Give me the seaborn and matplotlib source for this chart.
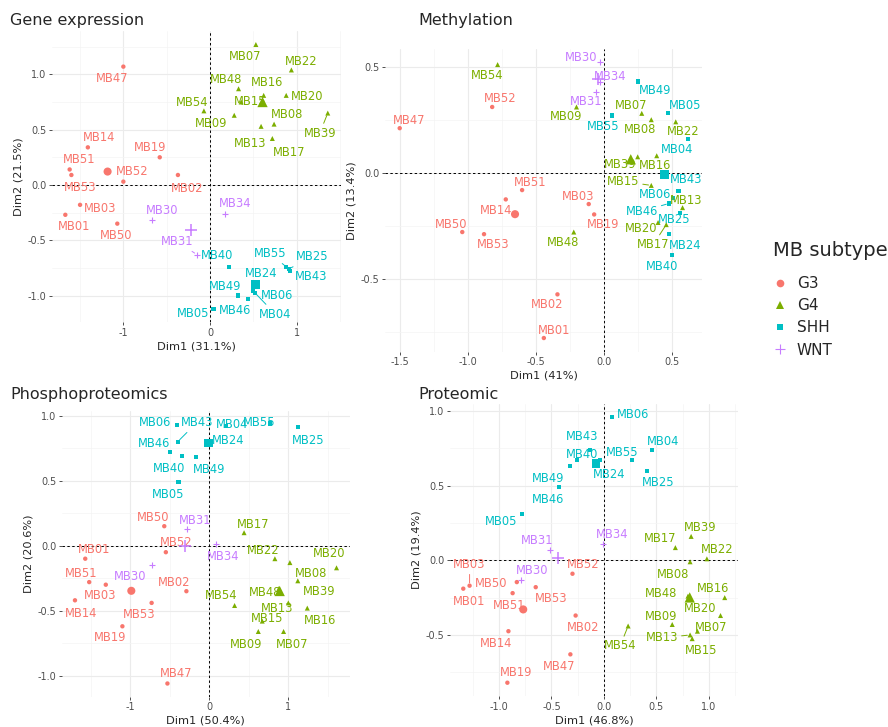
import numpy as np
import pandas as pd
import matplotlib
matplotlib.use("Agg")
import matplotlib.pyplot as plt
import seaborn as sns
from matplotlib.lines import Line2D
from matplotlib.ticker import MultipleLocator, AutoMinorLocator, FormatStrFormatter

# ---------------- data ----------------
SAMPLES = ["MB01", "MB02", "MB03", "MB04", "MB05", "MB06", "MB07", "MB08", "MB09",
           "MB13", "MB14", "MB15", "MB16", "MB17", "MB19", "MB20", "MB22", "MB24",
           "MB25", "MB30", "MB31", "MB34", "MB39", "MB40", "MB43", "MB46", "MB47",
           "MB48", "MB49", "MB50", "MB51", "MB52", "MB53", "MB54", "MB55"]
SUBTYPE = ["G3", "G3", "G3", "SHH", "SHH", "SHH", "G4", "G4", "G4",
           "G4", "G3", "G4", "G4", "G4", "G3", "G4", "G4", "SHH",
           "SHH", "WNT", "WNT", "WNT", "G4", "SHH", "SHH", "SHH", "G3",
           "G4", "SHH", "G3", "G3", "G3", "G3", "G4", "SHH"]

GROUPS = ["G3", "G4", "SHH", "WNT"]

GE_DIM1 = [-1.67, -0.37, -1.50, 0.50, 0.04, 0.52, 0.53, 0.74, 0.28,
           0.59, -1.41, 0.36, 0.62, 0.72, -0.58, 0.88, 0.94, 0.50,
           0.91, -0.67, -0.15, 0.17, 1.36, 0.22, 0.92, 0.44, -1.00,
           0.33, 0.32, -1.07, -1.62, -1.00, -1.60, -0.07, 0.88]
GE_DIM2 = [-0.27, 0.09, -0.18, -0.96, -1.12, -0.98, 1.27, 0.55, 0.63,
           0.53, 0.34, 0.75, 0.81, 0.42, 0.25, 0.81, 1.04, -0.89,
           -0.76, -0.32, -0.63, -0.26, 0.65, -0.74, -0.78, -1.03, 1.07,
           0.87, -1.00, -0.35, 0.14, 0.03, 0.09, 0.67, -0.74]

ME_DIM1 = [-0.44, -0.34, -0.11, 0.62, 0.47, 0.51, 0.28, 0.35, -0.20,
           0.58, -0.72, 0.35, 0.39, 0.46, -0.07, 0.40, 0.53, 0.48,
           0.56, -0.03, -0.06, -0.03, 0.25, 0.50, 0.55, 0.48, -1.50,
           -0.22, 0.25, -1.04, -0.60, -0.82, -0.88, -0.78, 0.06]
ME_DIM2 = [-0.78, -0.574, -0.148, 0.16, 0.28, -0.12, 0.28, 0.25, 0.31,
           -0.165, -0.126, -0.06, 0.08, -0.245, -0.197, -0.235, 0.24, -0.29,
           -0.19, 0.52, 0.38, 0.43, 0.075, -0.39, -0.085, -0.145, 0.21,
           -0.28, 0.43, -0.28, -0.082, 0.31, -0.29, 0.51, 0.27]

PH_DIM1 = [-1.57, -0.29, -1.31, 0.21, -0.39, -0.41, 0.94, 1.02, 0.62,
           1.00, -1.70, 0.67, 1.24, 0.44, -1.10, 1.61, 0.83, 0.01,
           1.12, -0.72, -0.28, 0.09, 1.12, -0.35, -0.40, -0.50, -0.53,
           0.88, -0.17, -0.57, -1.52, -0.55, -0.73, 0.32, 0.77]
PH_DIM2 = [-0.10, -0.35, -0.30, 0.92, 0.49, 0.93, -0.66, -0.13, -0.66,
           -0.44, -0.42, -0.58, -0.48, 0.10, -0.62, -0.17, -0.10, 0.80,
           0.91, -0.15, 0.13, 0.01, -0.27, 0.69, 0.80, 0.72, -1.06,
           -0.33, 0.68, 0.15, -0.28, -0.05, -0.44, -0.46, 0.94]

PR_DIM1 = [-1.34, -0.27, -1.28, 0.46, -0.78, 0.08, 0.89, 0.82, 0.65,
           0.82, -0.91, 0.84, 1.15, 0.68, -0.92, 1.11, 0.98, -0.04,
           0.41, -0.79, -0.51, -0.01, 0.83, -0.26, -0.13, -0.43, -0.32,
           0.80, -0.32, -0.83, -0.87, -0.30, -0.65, 0.23, 0.27]
PR_DIM2 = [-0.19, -0.37, -0.17, 0.74, 0.31, 0.96, -0.475, -0.01, -0.43,
           -0.50, -0.475, -0.525, -0.25, 0.085, -0.82, -0.37, 0.01, 0.67,
           0.60, -0.13, 0.07, 0.11, 0.16, 0.67, 0.74, 0.49, -0.63,
           -0.24, 0.63, -0.146, -0.22, -0.09, -0.18, -0.44, 0.67]

PANEL_TITLES = ["Gene expression", "Methylation", "Phosphoproteomics", "Proteomic"]
DIM1_PCT = ["31.1%", "41%", "50.4%", "46.8%"]
DIM2_PCT = ["21.5%", "13.4%", "20.6%", "19.4%"]
LEGEND_TITLE = "MB subtypes"

# ---------------- style ----------------
COLORS = {"G3": "#F8766D", "G4": "#7CAE00", "SHH": "#00BFC4", "WNT": "#C77CFF"}
MARKERS = {"G3": "o", "G4": "^", "SHH": "s", "WNT": "+"}
PT_SIZE = {"G3": 10, "G4": 13, "SHH": 9, "WNT": 22}
CEN_SIZE = {"G3": 34, "G4": 55, "SHH": 36, "WNT": 70}

# label offsets in pixels (right, down) relative to the point
OFF_GE = {"MB07": (-11, 12), "MB22": (10, -8), "MB48": (-12, -9), "MB16": (3, -13),
          "MB15": (9, -1), "MB20": (21, 1), "MB54": (-12, -8), "MB09": (-23, 8),
          "MB08": (13, -10), "MB39": (-8, 20), "MB13": (-11, 17), "MB17": (17, 14),
          "MB47": (-11, 12), "MB14": (11, -10), "MB19": (-10, -10), "MB51": (9, -10),
          "MB53": (9, 13), "MB52": (9, -10), "MB02": (9, 14), "MB03": (20, 4),
          "MB01": (9, 12), "MB50": (-1, 12), "MB30": (10, -10), "MB34": (10, -10),
          "MB31": (-20, -13), "MB40": (-12, -11), "MB55": (-16, -13), "MB25": (23, -12),
          "MB43": (21, 5), "MB24": (8, -10), "MB49": (-13, -9), "MB06": (22, 2),
          "MB46": (-13, 12), "MB04": (22, 23), "MB05": (-20, 5)}
OFF_ME = {"MB30": (-18, -5), "MB34": (11, -5), "MB31": (-9, 9), "MB54": (-10, 11),
          "MB52": (8, -8), "MB47": (9, -8), "MB09": (-10, 10), "MB49": (17, 9),
          "MB55": (-9, 11), "MB07": (-11, -8), "MB08": (-11, 10), "MB05": (18, -8),
          "MB22": (7, 10), "MB04": (-11, 11), "MB39": (-18, 8), "MB16": (-2, 10),
          "MB15": (-28, -4), "MB43": (8, -11), "MB06": (-18, -4), "MB46": (-27, 8),
          "MB13": (4, -7), "MB25": (-6, 7), "MB20": (-17, 6), "MB17": (-13, 20),
          "MB24": (16, 11), "MB40": (-10, 11), "MB48": (-11, 10), "MB51": (8, -8),
          "MB14": (-10, 11), "MB03": (-11, -8), "MB19": (9, 10), "MB50": (-11, -8),
          "MB53": (9, 10), "MB02": (-10, 10), "MB01": (10, -8)}
OFF_PH = {"MB06": (-22, -2), "MB43": (19, -19), "MB46": (-16, -9), "MB40": (-13, 12),
          "MB49": (13, 12), "MB05": (-10, 13), "MB04": (6, -2), "MB55": (-11, -1),
          "MB25": (10, 13), "MB24": (18, -1), "MB50": (-11, -9), "MB31": (8, -8),
          "MB52": (10, -10), "MB01": (9, -9), "MB34": (7, 12), "MB17": (9, -8),
          "MB22": (-12, -8), "MB20": (-7, -14), "MB30": (-22, 11), "MB51": (-8, -9),
          "MB03": (-6, 11), "MB02": (-12, -9), "MB14": (6, 13), "MB53": (-12, 12),
          "MB19": (-12, 11), "MB47": (9, -10), "MB08": (21, 11), "MB39": (21, 11),
          "MB48": (-14, 4), "MB13": (-11, 6), "MB16": (13, 12), "MB54": (-13, -10),
          "MB15": (5, -3), "MB09": (-12, 13), "MB07": (9, 13)}
OFF_PR = {"MB06": (21, -2), "MB43": (-8, -13), "MB04": (11, -8), "MB55": (-10, -8),
          "MB40": (5, -6), "MB49": (-22, 12), "MB24": (9, 14), "MB25": (11, 12),
          "MB46": (-11, 12), "MB05": (-21, 7), "MB31": (-13, -9), "MB34": (9, -9),
          "MB39": (9, -9), "MB17": (-15, -9), "MB22": (10, -9), "MB08": (-17, 13),
          "MB30": (11, -9), "MB52": (11, -9), "MB03": (0, -21), "MB01": (6, 13),
          "MB50": (-26, 1), "MB51": (-3, 12), "MB53": (15, 11), "MB02": (8, 12),
          "MB14": (-12, 12), "MB47": (-11, 12), "MB19": (9, -10), "MB16": (-12, -9),
          "MB48": (-27, -3), "MB20": (-20, -7), "MB09": (-11, -8), "MB07": (14, -4),
          "MB13": (-28, 3), "MB15": (9, 12), "MB54": (-8, 20)}
SEGS = [{"MB39", "MB31", "MB55", "MB25", "MB04"},
        {"MB15", "MB46", "MB17"},
        {"MB43"},
        {"MB03", "MB13", "MB54"}]

# panel rectangles in pixels: left, top, right, bottom
W, H = 888, 727
RECTS = [(52.2, 31.3, 340.9, 322.0),
         (385.3, 48.7, 702.4, 351.8),
         (61.9, 410.5, 349.6, 696.5),
         (450.2, 403.7, 737.8, 696.0)]
TITLE_POS = [(10, 20), (418, 20), (10, 395), (418, 395)]
XFMT = ["%g", "%.1f", "%g", "%.1f"]
XSTEP = [1.0, 0.5, 1.0, 0.5]

sns.set_theme(style="white")
plt.rcParams["font.family"] = ["DejaVu Sans"]
plt.rcParams["axes.unicode_minus"] = False

fig = plt.figure(figsize=(W / 100, H / 100), dpi=100)

panels = [(GE_DIM1, GE_DIM2, OFF_GE), (ME_DIM1, ME_DIM2, OFF_ME),
          (PH_DIM1, PH_DIM2, OFF_PH), (PR_DIM1, PR_DIM2, OFF_PR)]

for i, (d1, d2, offs) in enumerate(panels):
    L, T, R, B = RECTS[i]
    ax = fig.add_axes([L / W, 1 - B / H, (R - L) / W, (B - T) / H])
    df = pd.DataFrame({"sample": SAMPLES, "subtype": SUBTYPE, "Dim1": d1, "Dim2": d2})

    ax.set_axisbelow(True)
    for g in GROUPS:
        sub = df[df["subtype"] == g]
        c = COLORS[g]
        m = MARKERS[g]
        if m == "+":
            kw = dict(edgecolor=c, linewidth=0.8)
        else:
            kw = dict(edgecolor="none", linewidth=0)
        sns.scatterplot(data=sub, x="Dim1", y="Dim2", color=c, marker=m,
                        s=PT_SIZE[g], ax=ax, legend=False, zorder=3, **kw)
        for _, r in sub.iterrows():
            dx, dy = offs[r["sample"]]
            akw = {}
            if r["sample"] in SEGS[i]:
                akw["arrowprops"] = dict(arrowstyle="-", color=c, lw=0.7,
                                         shrinkA=0, shrinkB=2)
            ax.annotate(r["sample"], (r["Dim1"], r["Dim2"]), xytext=(dx, -dy),
                        textcoords="offset pixels", ha="center", va="center",
                        fontsize=8.3, color=c, zorder=4, **akw)
        cen = sub[["Dim1", "Dim2"]].mean()
        ckw = dict(kw)
        if m == "+":
            ckw["linewidth"] = 1.1
        sns.scatterplot(x=[cen["Dim1"]], y=[cen["Dim2"]], color=c, marker=m,
                        s=CEN_SIZE[g], ax=ax, legend=False, zorder=5, **ckw)

    # limits (ggplot-like 5% expansion)
    xr = max(d1) - min(d1)
    yr = max(d2) - min(d2)
    ax.set_xlim(min(d1) - 0.05 * xr, max(d1) + 0.05 * xr)
    ax.set_ylim(min(d2) - 0.05 * yr, max(d2) + 0.05 * yr)

    ax.axhline(0, color="black", lw=0.7, ls=(0, (2.5, 2.5)), zorder=2)
    ax.axvline(0, color="black", lw=0.7, ls=(0, (2.5, 2.5)), zorder=2)

    ax.xaxis.set_major_locator(MultipleLocator(XSTEP[i]))
    ax.yaxis.set_major_locator(MultipleLocator(0.5))
    ax.xaxis.set_minor_locator(AutoMinorLocator(2))
    ax.yaxis.set_minor_locator(AutoMinorLocator(2))
    ax.xaxis.set_major_formatter(FormatStrFormatter(XFMT[i]))
    ax.yaxis.set_major_formatter(FormatStrFormatter("%.1f"))
    ax.grid(True, which="major", color="#EBEBEB", lw=0.8)
    ax.grid(True, which="minor", color="#F4F4F4", lw=0.5)
    for s in ax.spines.values():
        s.set_visible(False)
    ax.tick_params(which="major", direction="out", length=2.5, width=0.6,
                   color="#333333", labelsize=6.9, labelcolor="#4D4D4D", pad=1.5,
                   bottom=True, left=True)
    ax.tick_params(which="minor", length=0)
    ax.set_xlabel(f"Dim1 ({DIM1_PCT[i]})", fontsize=8.2, labelpad=2.5)
    ax.set_ylabel(f"Dim2 ({DIM2_PCT[i]})", fontsize=8.2, labelpad=3)

    tx, ty = TITLE_POS[i]
    fig.text(tx / W, 1 - ty / H, PANEL_TITLES[i], fontsize=11.5, ha="left", va="center")

# legend
fig.text(773 / W, 1 - 250 / H, LEGEND_TITLE, fontsize=14, ha="left", va="center")
handles = []
for g in GROUPS:
    m = MARKERS[g]
    if m == "+":
        h = Line2D([], [], marker=m, color=COLORS[g], linestyle="", markersize=7,
                   markeredgewidth=0.8)
    else:
        h = Line2D([], [], marker=m, color=COLORS[g], linestyle="",
                   markersize={"o": 5.5, "^": 5.5, "s": 5}[m], markeredgewidth=0)
    handles.append(h)
fig.legend(handles, GROUPS, loc="upper left", bbox_to_anchor=(772.4 / W, 1 - 276 / H),
           frameon=False, fontsize=11, borderpad=0, borderaxespad=0,
           handlelength=1.0, handletextpad=0.61, labelspacing=0.47)

fig.savefig("out.png", dpi=100)
